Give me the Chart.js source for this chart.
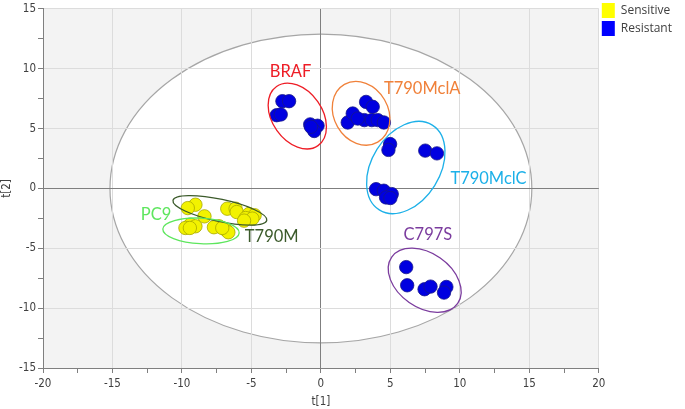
<!DOCTYPE html>
<html>
<head>
<meta charset="utf-8">
<script src="https://cdn.jsdelivr.net/npm/chart.js@4.4.1/dist/chart.umd.min.js"></script>
<style>
  html, body { margin: 0; padding: 0; background: #fff; }
  #wrap { width: 685px; height: 409px; }
</style>
</head>
<body>
<div id="wrap"><canvas id="myChart" width="685" height="409"></canvas></div>
<script>
// score values t[1], t[2]
const sensitiveX = [-9.03, -9.58, -8.38, -9.39, -9.75, -9.03, -9.43, -6.74, -6.14, -6.06, -5.17, -4.77, -5.42, -4.93, -5.53, -7.34, -7.70, -6.86, -6.66, -7.10];
const sensitiveY = [-1.36, -1.64, -2.33, -3.02, -3.30, -3.16, -3.30, -1.69, -1.69, -1.97, -2.13, -2.24, -2.47, -2.52, -2.69, -3.16, -3.24, -3.44, -3.66, -3.30];

const resistantX = [-2.77, -2.29, -3.18, -2.89, -0.77, -0.24, -0.48, -0.72,
  1.93, 2.29, 3.25, 3.73, 3.13, 3.66, 4.09, 4.53, 2.65,
  4.98, 4.86, 7.51, 8.35, 3.97, 4.53, 5.10, 4.69, 5.00,
  6.14, 6.21, 7.46, 7.89, 9.03, 8.86];
const resistantY = [7.29, 7.29, 6.12, 6.18, 5.35, 5.24, 4.80, 5.15,
  5.51, 6.26, 7.23, 6.82, 5.71, 5.71, 5.71, 5.51, 5.84,
  3.71, 3.22, 3.16, 2.93, -0.06, -0.19, -0.47, -0.75, -0.80,
  -6.57, -8.09, -8.42, -8.20, -8.23, -8.70];

// group ellipses (data units) and labels
const groupNames = ['BRAF', 'T790MclA', 'T790MclC', 'C797S', 'T790M', 'PC9'];
const groupCx = [-1.7, 2.89, 6.11, 7.47, -7.27, -8.63];
const groupCy = [6.05, 6.28, 1.75, -7.67, -1.83, -3.55];
const groupA = [2.6, 2.4, 3.6, 2.9, 3.45, 2.75];
const groupB = [1.8, 1.95, 2.45, 1.95, 0.8, 0.92];
const groupAngle = [55, 60, -58, 35, 12, 3];
const labelX = [-2.19, 7.29, 12.06, 7.7, -3.54, -11.86];
const labelY = [9.78, 8.34, 0.85, -3.85, -4.05, -2.19];
const groupColors = ['#ee1c25', '#f0813a', '#1cb0e8', '#7b3c9e', '#3b5a2a', '#5ee65e'];

// Hotelling T2 ellipse
const hotX = 0, hotY = 0, hotRx = 15.18, hotRy = 12.9;

const tickFont = { family: "'Liberation Sans Narrow', 'DejaVu Sans Condensed', 'DejaVu Sans', sans-serif", size: 11.5 };

const backgroundPlugin = {
  id: 'backgroundPlugin',
  beforeDraw(chart) {
    const { ctx, chartArea, scales: { x, y } } = chart;
    ctx.save();
    ctx.fillStyle = '#f3f3f3';
    ctx.fillRect(chartArea.left, chartArea.top, chartArea.right - chartArea.left, chartArea.bottom - chartArea.top);
    const cx = x.getPixelForValue(hotX);
    const cy = y.getPixelForValue(hotY);
    const rx = Math.abs(x.getPixelForValue(hotX + hotRx) - cx);
    const ry = Math.abs(y.getPixelForValue(hotY + hotRy) - cy);
    ctx.beginPath();
    ctx.ellipse(cx, cy, rx, ry, 0, 0, Math.PI * 2);
    ctx.fillStyle = '#ffffff';
    ctx.fill();
    ctx.lineWidth = 1.2;
    ctx.strokeStyle = '#a6a6a6';
    ctx.stroke();
    ctx.restore();
  }
};

const groupPlugin = {
  id: 'groupPlugin',
  afterDatasetsDraw(chart) {
    const { ctx, scales: { x, y } } = chart;
    const unit = Math.abs(x.getPixelForValue(1) - x.getPixelForValue(0));
    ctx.save();
    groupNames.forEach((name, i) => {
      const cx = x.getPixelForValue(groupCx[i]);
      const cy = y.getPixelForValue(groupCy[i]);
      ctx.beginPath();
      ctx.ellipse(cx, cy, groupA[i] * unit, groupB[i] * unit, groupAngle[i] * Math.PI / 180, 0, Math.PI * 2);
      ctx.lineWidth = 1.3;
      ctx.strokeStyle = groupColors[i];
      ctx.stroke();
      ctx.fillStyle = groupColors[i];
      ctx.font = "16.5px Lato, 'Open Sans', sans-serif";
      ctx.textAlign = 'center';
      ctx.textBaseline = 'middle';
      ctx.fillText(name, x.getPixelForValue(labelX[i]), y.getPixelForValue(labelY[i]));
    });
    ctx.restore();
  }
};

function toPoints(xs, ys) {
  return xs.map((v, i) => ({ x: v, y: ys[i] }));
}

function gridColor(ctx) {
  const v = ctx.tick ? ctx.tick.value : null;
  if (v === 0) return '#7f7f7f';
  if (v !== null && Math.abs(v % 5) > 0.01) return 'rgba(0,0,0,0)';
  return '#dcdcdc';
}

const chart = new Chart(document.getElementById('myChart').getContext('2d'), {
  type: 'scatter',
  data: {
    datasets: [{
      label: 'Sensitive',
      data: toPoints(sensitiveX, sensitiveY),
      backgroundColor: '#f2f200',
      borderColor: '#a8a800',
      borderWidth: 0.8,
      pointRadius: 6.7
    }, {
      label: 'Resistant',
      data: toPoints(resistantX, resistantY),
      backgroundColor: '#0000e0',
      borderColor: '#16168a',
      borderWidth: 0.8,
      pointRadius: 6.7
    }]
  },
  options: {
    responsive: false,
    animation: false,
    layout: { padding: { top: 0, right: 3, left: 0, bottom: 0 } },
    plugins: {
      tooltip: { enabled: false },
      legend: {
        position: 'right',
        align: 'start',
        labels: {
          boxWidth: 13,
          boxHeight: 15,
          padding: 3,
          color: '#404040',
          font: { family: "'Open Sans', sans-serif", size: 12 },
          generateLabels(chart) {
            return chart.data.datasets.map((ds, i) => ({
              text: ds.label,
              fillStyle: i === 0 ? '#ffff00' : '#0000ff',
              strokeStyle: i === 0 ? '#ffff00' : '#0000ff',
              lineWidth: 0,
              fontColor: '#404040',
              datasetIndex: i
            }));
          }
        }
      }
    },
    scales: {
      x: {
        type: 'linear',
        min: -20,
        max: 20,
        afterFit(scale) { scale.height = 41; },
        ticks: {
          stepSize: 2.5,
          color: '#404040',
          font: tickFont,
          maxRotation: 0,
          padding: 4,
          callback: (v) => (Math.abs(v % 5) < 0.01 ? v : '')
        },
        grid: { color: gridColor, tickColor: '#7f7f7f', tickLength: 5, drawTicks: true },
        border: { color: '#7f7f7f', width: 1 },
        title: { display: true, text: 't[1]', color: '#404040', font: tickFont, padding: { top: 0, bottom: 0 } }
      },
      y: {
        type: 'linear',
        min: -15,
        max: 15,
        afterFit(scale) { scale.width = 43; },
        ticks: {
          stepSize: 2.5,
          color: '#404040',
          font: tickFont,
          padding: 2,
          callback: (v) => (Math.abs(v % 5) < 0.01 ? v : '')
        },
        grid: { color: gridColor, tickColor: '#7f7f7f', tickLength: 5, drawTicks: true },
        border: { color: '#7f7f7f', width: 1 },
        title: { display: true, text: 't[2]', color: '#404040', font: tickFont, padding: { top: 0, bottom: 2 } }
      }
    }
  },
  plugins: [backgroundPlugin, groupPlugin]
});
</script>
</body>
</html>
